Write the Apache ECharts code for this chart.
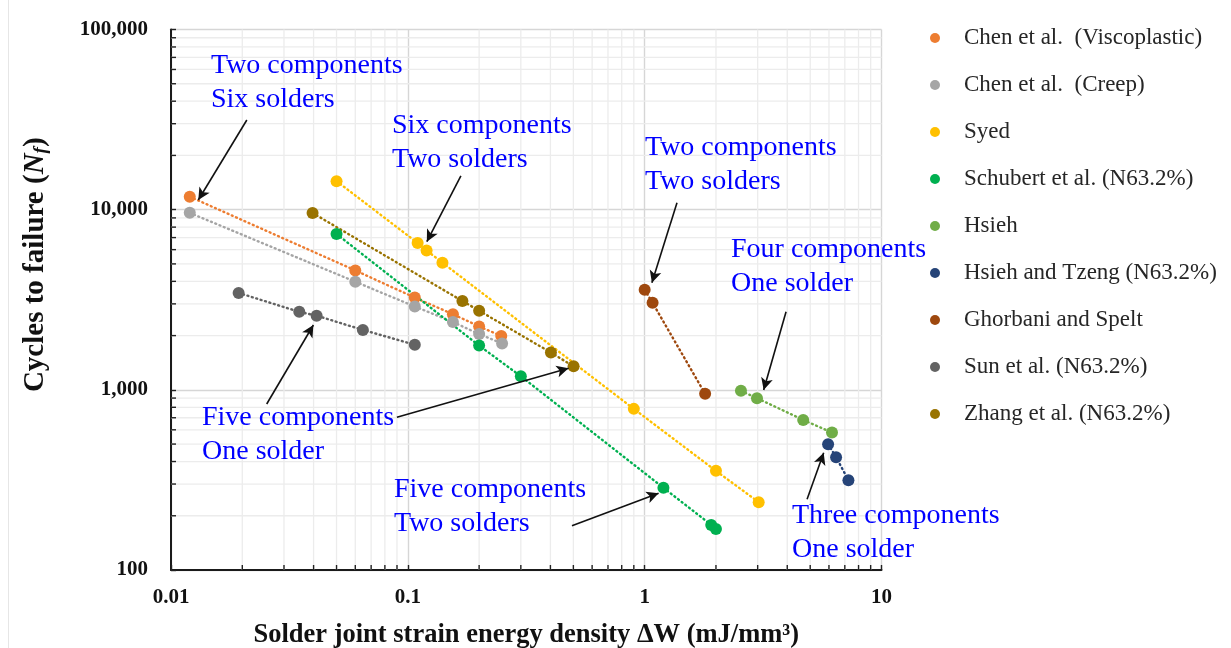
<!DOCTYPE html>
<html>
<head>
<meta charset="utf-8">
<script src="https://cdn.jsdelivr.net/npm/echarts@6/dist/echarts.min.js"></script>
<style>
  html, body { margin: 0; padding: 0; background: #fff; }
  #chart { width: 1231px; height: 648px; }
</style>
</head>
<body>
<div id="chart"></div>
<script>
// Strain energy density (mJ/mm^3) vs. cycles to failure, one array per study
const chenVisco  = [[0.012, 11800], [0.06, 4600], [0.107, 3250], [0.155, 2630], [0.2, 2250], [0.248, 1990]];
const chenCreep  = [[0.012, 9600], [0.06, 3980], [0.107, 2900], [0.155, 2380], [0.2, 2040], [0.25, 1810]];
const syed       = [[0.05, 14400], [0.11, 6530], [0.12, 5940], [0.14, 5080], [0.9, 784], [2.0, 355], [3.03, 238]];
const schubert   = [[0.05, 7330], [0.2, 1760], [0.3, 1190], [1.2, 286], [1.91, 178], [2.0, 169]];
const hsieh      = [[2.55, 987], [2.98, 899], [4.67, 681], [6.18, 579]];
const hsiehTzeng = [[5.95, 499], [6.43, 423], [7.25, 315]];
const ghorbani   = [[1.0, 3590], [1.08, 3040], [1.8, 950]];
const sun        = [[0.0193, 3450], [0.0348, 2710], [0.0412, 2580], [0.0646, 2150], [0.107, 1780]];
const zhang      = [[0.0396, 9590], [0.17, 3110], [0.2, 2750], [0.402, 1610], [0.501, 1350]];

const seriesNames = [
  'Chen et al.  (Viscoplastic)', 'Chen et al.  (Creep)', 'Syed', 'Schubert et al. (N63.2%)',
  'Hsieh', 'Hsieh and Tzeng (N63.2%)', 'Ghorbani and Spelt', 'Sun et al. (N63.2%)', 'Zhang et al. (N63.2%)'
];
const seriesData = [chenVisco, chenCreep, syed, schubert, hsieh, hsiehTzeng, ghorbani, sun, zhang];
const seriesColors = ['#ED7D31', '#A5A5A5', '#FFC000', '#00B050', '#70AD47', '#264478', '#9E480E', '#636363', '#997300'];

// Axis ranges and labels
const xTicks = [0.01, 0.1, 1, 10];
const yTicks = [100, 1000, 10000, 100000];
const minorSteps = [2, 3, 4, 5, 6, 7, 8, 9];

// Callout texts and the arrows that tie them to the data (data-space endpoints)
const callouts = [
  { text: 'Two components\nSix solders',     x: 211, y: 49 },
  { text: 'Six components\nTwo solders',     x: 392, y: 109 },
  { text: 'Two components\nTwo solders',     x: 645, y: 131 },
  { text: 'Four components\nOne solder',     x: 731, y: 233 },
  { text: 'Three components\nOne solder',    x: 792, y: 499 },
  { text: 'Five components\nTwo solders',    x: 394, y: 473 },
  { text: 'Five components\nOne solder',     x: 202, y: 401 }
];
const arrows = [
  [[0.0209, 31460], [0.01304, 11320]],
  [[0.1675, 15380], [0.1203, 6640]],
  [[1.369, 10930], [1.073, 3933]],
  [[3.954, 2715], [3.18, 998]],
  [[4.85, 246.9], [5.70, 447.9]],
  [[0.4931, 176.2], [1.145, 266.6]],
  [[0.02536, 834.5], [0.03992, 2290]],
  [[0.0899, 704.0], [0.4771, 1317]]
];

const SERIF = '"Liberation Serif", "Times New Roman", serif';

const xMinor = [];
for (let d = 0; d < xTicks.length - 1; d++) minorSteps.forEach(m => xMinor.push([xTicks[d] * m, yTicks[0]]));
const yMinor = [];
for (let d = 0; d < yTicks.length - 1; d++) minorSteps.forEach(m => yMinor.push([xTicks[0], yTicks[d] * m]));

function minorXItem(params, api) {
  const cs = params.coordSys;
  const px = api.coord([api.value(0), api.value(1)])[0];
  const bottom = cs.y + cs.height;
  return {
    type: 'group',
    children: [
      { type: 'line', shape: { x1: px, y1: cs.y, x2: px, y2: bottom }, style: { stroke: '#ECECEC', lineWidth: 1.3 } },
      { type: 'line', shape: { x1: px, y1: bottom, x2: px, y2: bottom - 5 }, style: { stroke: '#222', lineWidth: 1.4 } }
    ]
  };
}
function minorYItem(params, api) {
  const cs = params.coordSys;
  const py = api.coord([api.value(0), api.value(1)])[1];
  return {
    type: 'group',
    children: [
      { type: 'line', shape: { x1: cs.x, y1: py, x2: cs.x + cs.width, y2: py }, style: { stroke: '#ECECEC', lineWidth: 1.3 } },
      { type: 'line', shape: { x1: cs.x - 1, y1: py, x2: cs.x + 5, y2: py }, style: { stroke: '#222', lineWidth: 1.4 } }
    ]
  };
}

const dataSeries = seriesNames.map((name, i) => ({
  name: name,
  type: 'line',
  data: seriesData[i],
  symbol: 'circle',
  symbolSize: 12,
  showSymbol: true,
  itemStyle: { color: seriesColors[i] },
  lineStyle: { color: seriesColors[i], width: 2.4, type: [1, 3.6], cap: 'round' },
  emphasis: { disabled: true },
  z: 3
}));

const chart = echarts.init(document.getElementById('chart'), null, { renderer: 'canvas' });
chart.setOption({
  animation: false,
  backgroundColor: '#ffffff',
  grid: { left: 171, top: 29.5, width: 710.5, height: 540.5, containLabel: false, outerBoundsMode: 'none' },
  xAxis: {
    type: 'log', logBase: 10, min: xTicks[0], max: xTicks[xTicks.length - 1],
    name: 'Solder joint strain energy density ΔW (mJ/mm³)',
    nameLocation: 'middle', nameGap: 52,
    nameTextStyle: { fontFamily: SERIF, fontWeight: 'bold', fontSize: 26.5, color: '#111' },
    axisLine: { show: true, lineStyle: { color: '#1a1a1a', width: 2 } },
    axisTick: { show: true, inside: true, length: 5, lineStyle: { color: '#222', width: 1.4 } },
    axisLabel: {
      fontFamily: SERIF, fontWeight: 'bold', fontSize: 21, color: '#111', margin: 17,
      formatter: v => (v >= 1 ? String(Math.round(v)) : String(+v.toPrecision(1)))
    },
    splitLine: { show: true, lineStyle: { color: '#D6D6D6', width: 1.4 } }
  },
  yAxis: {
    type: 'log', logBase: 10, min: yTicks[0], max: yTicks[yTicks.length - 1],
    name: '{b|Cycles to failure (}{i|N}{s|f}{b|)}',
    nameLocation: 'middle', nameGap: 120, nameRotate: 90,
    nameTextStyle: {
      padding: [0, 0, 0, 70],
      rich: {
        b: { fontFamily: SERIF, fontWeight: 'bold', fontSize: 29, color: '#111' },
        i: { fontFamily: SERIF, fontWeight: 'bold', fontStyle: 'italic', fontSize: 29, color: '#111' },
        s: { fontFamily: SERIF, fontWeight: 'bold', fontStyle: 'italic', fontSize: 19, color: '#111', padding: [11, 0, 0, 0] }
      }
    },
    axisLine: { show: true, lineStyle: { color: '#1a1a1a', width: 2 } },
    axisTick: { show: true, inside: true, length: 5, lineStyle: { color: '#222', width: 1.4 } },
    axisLabel: {
      fontFamily: SERIF, fontWeight: 'bold', fontSize: 21, color: '#111', margin: 23,
      formatter: v => Math.round(v).toLocaleString('en-US')
    },
    splitLine: { show: true, lineStyle: { color: '#D6D6D6', width: 1.4 } }
  },
  legend: {
    orient: 'vertical', left: 925, top: 21,
    icon: 'circle', itemWidth: 10, itemHeight: 10, itemGap: 23,
    data: seriesNames,
    textStyle: { fontFamily: SERIF, fontSize: 23, color: '#262626', lineHeight: 24, padding: [0, 0, 0, 19] },
    selectedMode: false
  },
  graphic: [
    { type: 'line', shape: { x1: 8.5, y1: 0, x2: 8.5, y2: 648 }, style: { stroke: '#E6E6E6', lineWidth: 1 }, silent: true }
  ].concat(callouts.map(c => ({
    type: 'text', x: c.x, y: c.y, silent: true, z: 10,
    style: { text: c.text, fill: '#0000FF', font: '28px ' + SERIF, lineHeight: 34, verticalAlign: 'top', align: 'left' }
  }))),
  series: [
    { type: 'custom', name: 'xMinorGrid', data: xMinor, renderItem: minorXItem, silent: true, z: 1, clip: false },
    { type: 'custom', name: 'yMinorGrid', data: yMinor, renderItem: minorYItem, silent: true, z: 1, clip: false }
  ].concat(dataSeries).concat([{
    type: 'line', name: 'callouts', data: [], silent: true, z: 5,
    markLine: {
      silent: true, animation: false,
      symbol: ['none', 'arrow'], symbolSize: [9, 12],
      label: { show: false },
      emphasis: { disabled: true },
      lineStyle: { color: '#111', width: 1.6, type: 'solid' },
      data: arrows.map(a => [{ coord: a[0] }, { coord: a[1] }])
    }
  }])
});
</script>
</body>
</html>
